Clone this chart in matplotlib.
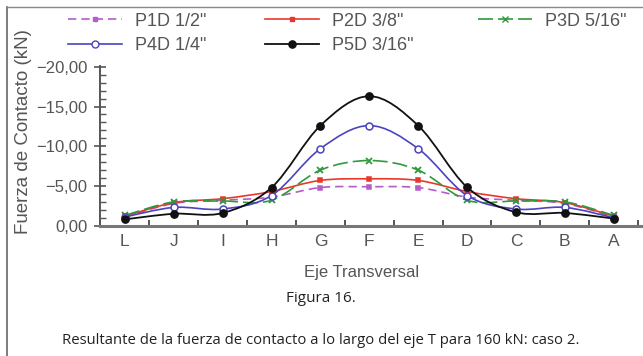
import numpy as np
import matplotlib
matplotlib.use('Agg')
import matplotlib.pyplot as plt
from matplotlib.path import Path
from matplotlib.patches import PathPatch
from matplotlib.lines import Line2D
from matplotlib.ticker import FuncFormatter, MultipleLocator

# Puntos del eje transversal
categories = ['L', 'J', 'I', 'H', 'G', 'F', 'E', 'D', 'C', 'B', 'A']

# Fuerza de contacto (kN) por placa
p1d = [-1.1, -2.8, -3.2, -3.6, -4.8, -4.9, -4.8, -3.6, -3.2, -2.8, -1.1]
p2d = [-1.2, -2.9, -3.4, -4.3, -5.7, -5.9, -5.7, -4.3, -3.4, -2.9, -1.2]
p3d = [-1.3, -3.0, -3.1, -3.2, -7.0, -8.2, -7.0, -3.2, -3.1, -3.0, -1.3]
p4d = [-1.1, -2.3, -2.1, -3.8, -9.7, -12.6, -9.7, -3.8, -2.1, -2.3, -1.0]
p5d = [-0.8, -1.5, -1.6, -4.8, -12.6, -16.3, -12.6, -4.85, -1.7, -1.6, -0.9]

series_labels = ['P1D 1/2"', 'P2D 3/8"', 'P3D 5/16"', 'P4D 1/4"', 'P5D 3/16"']

GRAY = '#555555'
FONT = 'Liberation Sans'

styles = [
    dict(color='#b45cc8', ls=(0, (5, 3)), marker='s', ms=2.2, mfc='#b45cc8', lw=1.2),
    dict(color='#e8382c', ls='-', marker='s', ms=2.4, mfc='#e8382c', lw=1.2),
    dict(color='#2f9a3c', ls=(0, (9, 3)), marker='x', ms=5, mfc='#2f9a3c', lw=1.2),
    dict(color='#4a44c0', ls='-', marker='o', ms=5, mfc='white', lw=1.2),
    dict(color='#111111', ls='-', marker='o', ms=5.2, mfc='#111111', lw=1.3),
]


def smooth_path(x, y):
    # Catmull-Rom convertido a curvas de Bezier cubicas
    pts = np.column_stack([x, y]).astype(float)
    ext = np.vstack([pts[0], pts, pts[-1]])
    verts = [pts[0]]
    codes = [Path.MOVETO]
    for i in range(1, len(ext) - 2):
        p0, p1, p2, p3 = ext[i - 1], ext[i], ext[i + 1], ext[i + 2]
        verts += [p1 + (p2 - p0) / 6.0, p2 - (p3 - p1) / 6.0, p2]
        codes += [Path.CURVE4] * 3
    return Path(verts, codes)


fig = plt.figure(figsize=(6.43, 3.56), dpi=100)
ax = fig.add_axes([100 / 643, 1 - 225.7 / 356, 543 / 643, (225.7 - 66) / 356])
ax.patch.set_alpha(0)

x = np.arange(len(categories))
handles = []
for vals, st, lab in zip([p1d, p2d, p3d, p4d, p5d], styles, series_labels):
    patch = PathPatch(smooth_path(x, vals), fill=False, edgecolor=st['color'],
                      lw=st['lw'], linestyle=st['ls'], capstyle='butt')
    ax.add_patch(patch)
    ax.plot(x, vals, ls='none', marker=st['marker'], ms=st['ms'],
            mfc=st['mfc'], mec=st['color'], mew=1.3 if st['marker'] == 'x' else 1.1)
    handles.append(Line2D([], [], color=st['color'], ls=st['ls'], lw=st['lw'],
                          marker=st['marker'], ms=st['ms'], mfc=st['mfc'],
                          mec=st['color'], label=lab))

ax.set_xlim(-0.51, 10.6)
ax.set_ylim(0, -20.1)

for s in ['top', 'right']:
    ax.spines[s].set_visible(False)
ax.spines['left'].set_color(GRAY)
ax.spines['left'].set_linewidth(1.4)
ax.spines['bottom'].set_color('#777777')
ax.spines['bottom'].set_linewidth(2.2)

ax.set_xticks(x)
ax.set_xticklabels(categories)
ax.xaxis.set_minor_locator(MultipleLocator(1.0, offset=0.5))
ax.tick_params(axis='x', which='major', length=0, pad=6, labelsize=12.5, labelcolor=GRAY)
ax.tick_params(axis='x', which='minor', direction='in', length=4, width=1.4, color=GRAY)

ax.set_yticks([0, -5, -10, -15, -20])
ax.yaxis.set_minor_locator(MultipleLocator(1.0))
ax.yaxis.set_major_formatter(FuncFormatter(
    lambda v, p: ('\u2212' if v < 0 else '') + f'{abs(v):.2f}'.replace('.', ',')))
ax.tick_params(axis='y', which='major', direction='inout', length=8, width=1.2,
               color=GRAY, labelsize=12, labelcolor=GRAY, pad=5)
ax.tick_params(axis='y', which='minor', direction='in', length=4, width=1.0, color=GRAY)

for t in ax.get_xticklabels() + ax.get_yticklabels():
    t.set_family(FONT)

# Leyenda: una entrada por posicion (x del trazo, y del renglon)
legend_pos = [(68, 21), (265, 21), (478, 21), (68, 46), (265, 46)]
for h, lab, (lx, ly) in zip(handles, series_labels, legend_pos):
    fig.legend([h], [lab], loc='center left',
               bbox_to_anchor=(lx / 643, 1 - ly / 356), frameon=False,
               borderpad=0, borderaxespad=0, handlelength=3.0, handletextpad=0.7,
               numpoints=1, prop={'family': FONT, 'size': 13}, labelcolor=GRAY)

fig.text(24 / 643, 1 - 132 / 356, 'Fuerza de Contacto (kN)', rotation=90,
         ha='center', va='center', fontsize=13.5, color=GRAY, family=FONT)
fig.text(362 / 643, 1 - 272 / 356, 'Eje Transversal', ha='center', va='center',
         fontsize=12, color=GRAY, family=FONT)

fig.text(321 / 643, 1 - 299 / 356, 'Figura 16.', ha='center', va='center',
         fontsize=11, color='#222222', family='Open Sans')
fig.text(321 / 643, 1 - 340 / 356,
         'Resultante de la fuerza de contacto a lo largo del eje T para 160 kN: caso 2.',
         ha='center', va='center', fontsize=10.7, color='#222222', family='Open Sans')

# Marco de la figura
fig.add_artist(Line2D([7 / 643, 7 / 643], [0, 1 - 7 / 356], color='#666666', lw=1.2,
                      transform=fig.transFigure))
fig.add_artist(Line2D([7 / 643, 1], [1 - 7 / 356, 1 - 7 / 356], color='#888888', lw=1.0,
                      transform=fig.transFigure))

fig.savefig('out.png', dpi=100)
